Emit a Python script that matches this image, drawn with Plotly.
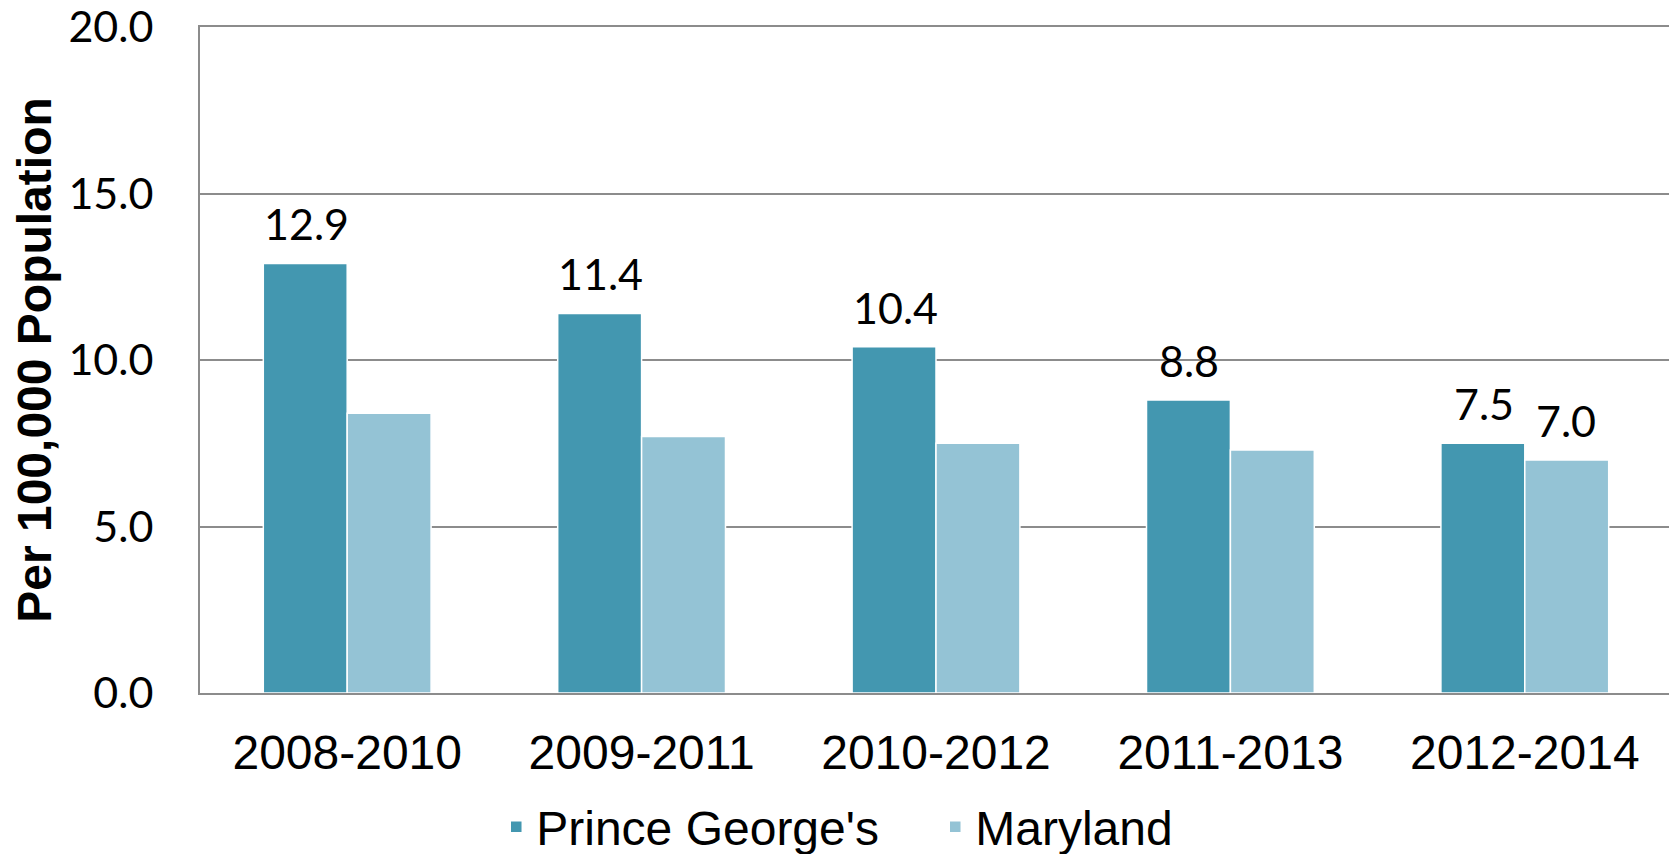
import plotly.graph_objects as go

categories = ["2008-2010", "2009-2011", "2010-2012", "2011-2013", "2012-2014"]
prince_georges = [12.9, 11.4, 10.4, 8.8, 7.5]
maryland = [8.4, 7.7, 7.5, 7.3, 7.0]
maryland_labels = ["", "", "", "", "7.0"]
y_ticks = [0, 5, 10, 15, 20]
y_tick_text = ["0.0", "5.0", "10.0", "15.0", "20.0"]

PG_COLOR = "#4397B0"
MD_COLOR = "#94C3D5"

fig = go.Figure()
fig.add_trace(go.Bar(
    x=categories, y=prince_georges, name="Prince George's",
    marker=dict(color=PG_COLOR, line=dict(color="white", width=1.5)),
))
fig.add_trace(go.Bar(
    x=categories, y=maryland, name="Maryland",
    marker=dict(color=MD_COLOR, line=dict(color="white", width=1.5)),
))

label_font = dict(family="Lato, Carlito, Calibri, sans-serif", size=43, color="black")
for c, v in zip(categories, prince_georges):
    fig.add_annotation(x=c, y=v, text=f"{v:.1f}", showarrow=False,
                       xref="x", yref="y", xshift=-41, yanchor="bottom", yshift=12,
                       font=label_font)
for c, v, t in zip(categories, maryland, maryland_labels):
    if t:
        fig.add_annotation(x=c, y=v, text=t, showarrow=False,
                           xref="x", yref="y", xshift=41, yanchor="bottom", yshift=12,
                           font=label_font)

fig.update_layout(
    width=1669, height=846,
    margin=dict(l=192, r=5, t=19, b=161, autoexpand=False),
    paper_bgcolor="white", plot_bgcolor="white",
    barmode="group", bargap=0.43, bargroupgap=0.0,
    showlegend=True,
    legend=dict(orientation="h", xref="paper", x=0.4995, xanchor="center",
                yref="container", y=0.032, yanchor="middle",
                font=dict(family="Liberation Sans, Arial, sans-serif", size=48, color="black"),
                itemwidth=30, entrywidth=394, tracegroupgap=0),
)
fig.update_xaxes(
    showline=True, linecolor="#8c8c8c", linewidth=2, mirror=True,
    tickfont=dict(family="Liberation Sans, Arial, sans-serif", size=48, color="black"),
    ticks="", ticklabelstandoff=16,
)
fig.update_yaxes(
    range=[0, 20], tickvals=y_ticks, ticktext=y_tick_text,
    showgrid=True, gridcolor="#8c8c8c", gridwidth=1.5,
    showline=True, linecolor="#8c8c8c", linewidth=2,
    zeroline=False, ticklabeloverflow="allow",
    tickfont=dict(family="Lato, Carlito, Calibri, sans-serif", size=43, color="black"),
    ticks="", ticklabelstandoff=36,
    title=dict(text="<b>Per 100,000 Population</b>",
               font=dict(family="Liberation Sans, Arial, sans-serif", size=48, color="black"),
               standoff=12),
)

fig.write_html("out.html")
